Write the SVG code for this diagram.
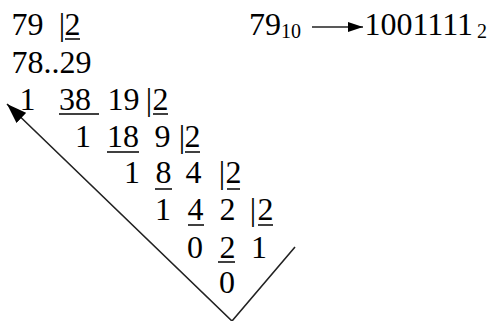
<svg xmlns="http://www.w3.org/2000/svg" width="492" height="321" viewBox="0 0 492 321" font-family="Liberation Serif, Times New Roman, serif">
<style>
text{font-family:"Liberation Serif",serif;font-size:32px;fill:#000}
.m{text-anchor:middle}
.s{font-size:20px}
.u{stroke:#000;stroke-width:1.5}
.c{stroke:#222;stroke-width:1.6;fill:none}
</style>
<defs>
<marker id="ah" viewBox="0 0 20 14" refX="20" refY="7" markerWidth="20" markerHeight="14" markerUnits="userSpaceOnUse" orient="auto-start-reverse">
<path d="M0,0 L20,7 L0,14 z" fill="#000"/>
</marker>
<marker id="ah2" viewBox="0 0 15 10" refX="15" refY="5" markerWidth="15" markerHeight="10" markerUnits="userSpaceOnUse" orient="auto">
<path d="M0,0 L15,5 L0,10 z" fill="#000"/>
</marker>
</defs>
<g id="row1" font-family="Liberation Serif">
<text class="m" x="27.5" y="35">79</text>
<text class="m" x="62" y="35">|</text>
<text class="m" x="72.5" y="35">2</text>
<line class="u" x1="65" y1="39" x2="80" y2="39"/>
</g>
<g id="row2">
<text x="11.5" y="73">78..29</text>
</g>
<g id="row3">
<text class="m" x="27.5" y="110">1</text>
<text class="m" x="75" y="110">38</text>
<line class="u" x1="59" y1="114" x2="99" y2="114"/>
<text class="m" x="123.5" y="110">19</text>
<text class="m" x="149" y="110">|</text>
<text class="m" x="160.5" y="110">2</text>
<line class="u" x1="153" y1="114" x2="168" y2="114"/>
</g>
<g id="row4">
<text class="m" x="83" y="147">1</text>
<text class="m" x="123" y="147">18</text>
<line class="u" x1="107" y1="152" x2="139" y2="152"/>
<text class="m" x="162.5" y="147">9</text>
<text class="m" x="182" y="147">|</text>
<text class="m" x="192.5" y="147">2</text>
<line class="u" x1="185" y1="152" x2="200" y2="152"/>
</g>
<g id="row5">
<text class="m" x="132" y="183">1</text>
<text class="m" x="163.5" y="183">8</text>
<line class="u" x1="155" y1="189" x2="172" y2="189"/>
<text class="m" x="193.5" y="183">4</text>
<text class="m" x="222" y="183">|</text>
<text class="m" x="233.5" y="183">2</text>
<line class="u" x1="227" y1="189" x2="240" y2="189"/>
</g>
<g id="row6">
<text class="m" x="163" y="220">1</text>
<text class="m" x="195.5" y="220">4</text>
<line class="u" x1="188" y1="225" x2="204" y2="225"/>
<text class="m" x="227.5" y="220">2</text>
<text class="m" x="253" y="220">|</text>
<text class="m" x="265.5" y="220">2</text>
<line class="u" x1="258" y1="225" x2="273" y2="225"/>
</g>
<g id="row7">
<text class="m" x="195" y="258">0</text>
<text class="m" x="227.5" y="258">2</text>
<line class="u" x1="218" y1="262" x2="235" y2="262"/>
<text class="m" x="259" y="258">1</text>
</g>
<g id="row8">
<text class="m" x="227" y="293">0</text>
</g>
<g id="result">
<text class="m" x="265" y="35">79</text>
<text x="281" y="38" class="s">10</text>
<text x="364.5" y="35">1001111</text>
<text x="477" y="38" class="s">2</text>
</g>
<g id="connectors">
<path class="c" d="M295,247 L232,321 L7,104" marker-end="url(#ah)"/>
<line class="c" x1="312" y1="27" x2="363" y2="27" marker-end="url(#ah2)"/>
</g>
</svg>
